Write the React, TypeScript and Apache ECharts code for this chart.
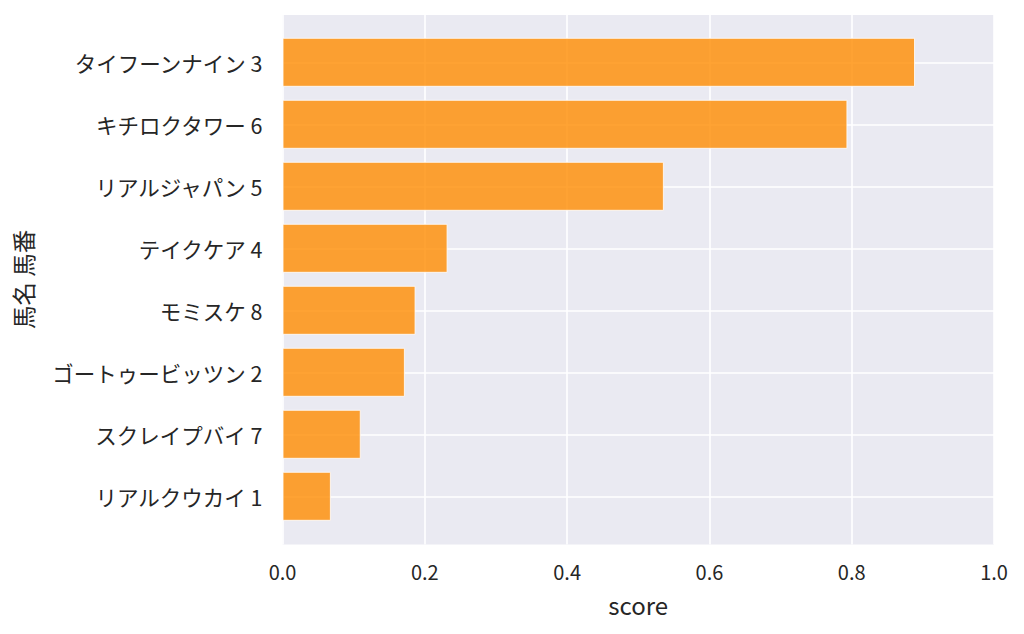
import React, { useEffect, useRef } from "react";
import * as echarts from "echarts";

const categories = [
  "タイフーンナイン 3",
  "キチロクタワー 6",
  "リアルジャパン 5",
  "テイクケア 4",
  "モミスケ 8",
  "ゴートゥービッツン 2",
  "スクレイプバイ 7",
  "リアルクウカイ 1",
];
const scores = [0.889, 0.794, 0.536, 0.232, 0.187, 0.172, 0.11, 0.068];
const xTicks = [0, 0.2, 0.4, 0.6, 0.8, 1.0];

const FONT = "'Noto Sans CJK JP', 'Noto Sans', sans-serif";
const TEXT = "#262626";

export default function App() {
  const ref = useRef<HTMLDivElement>(null);
  useEffect(() => {
    if (!ref.current) return;
    const chart = echarts.init(ref.current, undefined, { renderer: "svg" });
    const L = 282.5;
    const W = 711.5;
    chart.setOption({
      animation: false,
      textStyle: { fontFamily: FONT },
      grid: [
        {
          left: L,
          width: W,
          top: 15,
          height: 529.5,
          show: true,
          backgroundColor: "#eaeaf2",
          borderWidth: 0,
        },
        {
          left: L,
          width: W,
          top: 62.3,
          height: 434,
          show: false,
        },
      ],
      xAxis: [
        {
          gridIndex: 0,
          type: "value",
          min: xTicks[0],
          max: xTicks[xTicks.length - 1],
          interval: 0.2,
          axisLine: { show: false },
          axisTick: { show: false },
          axisLabel: {
            fontSize: 20,
            color: TEXT,
            fontFamily: FONT,
            margin: 17,
            formatter: (v: number) => v.toFixed(1),
          },
          splitLine: { show: true, lineStyle: { color: "#ffffff", width: 1.6 } },
          name: "score",
          nameLocation: "middle",
          nameGap: 48,
          nameTextStyle: { fontSize: 24, color: TEXT, fontFamily: FONT },
        },
        {
          gridIndex: 1,
          type: "value",
          min: 0,
          max: 1,
          show: false,
        },
      ],
      yAxis: [
        {
          gridIndex: 0,
          type: "value",
          show: false,
          splitLine: { show: false },
        },
        {
          gridIndex: 1,
          type: "category",
          data: categories,
          inverse: true,
          boundaryGap: false,
          axisLine: { show: false },
          axisTick: { show: false },
          axisLabel: {
            fontSize: 21.5,
            color: TEXT,
            fontFamily: FONT,
            margin: 20,
          },
          splitLine: { show: true, lineStyle: { color: "#ffffff", width: 1.6 } },
          name: "馬名 馬番",
          nameLocation: "middle",
          nameGap: 248,
          nameRotate: 90,
          nameTextStyle: { fontSize: 23.5, color: TEXT, fontFamily: FONT },
        },
      ],
      series: [
        {
          type: "bar",
          xAxisIndex: 1,
          yAxisIndex: 1,
          data: scores,
          barWidth: 49,
          clip: false,
          itemStyle: {
            color: "rgba(255,140,0,0.8)",
            borderColor: "rgba(255,255,255,0.8)",
            borderWidth: 1,
          },
        },
      ],
    });
    return () => chart.dispose();
  }, []);
  return <div ref={ref} style={{ width: 1024, height: 634, position: "absolute", left: 0, top: 0 }} />;
}
